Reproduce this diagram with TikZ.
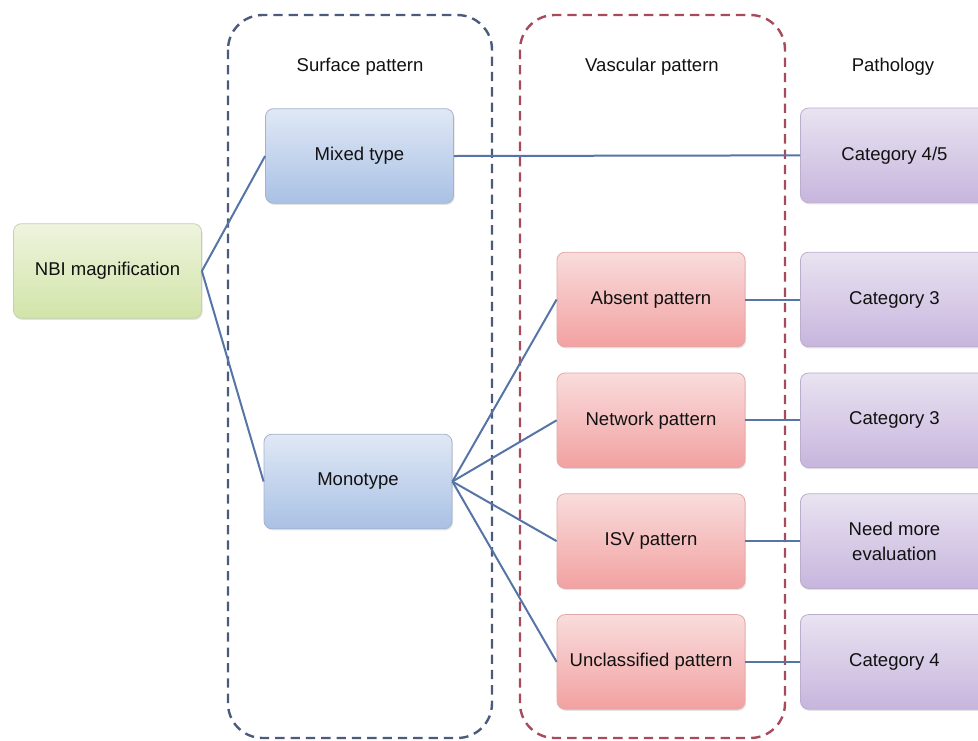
\documentclass[tikz,border=0pt]{standalone}
\usepackage{fontspec}
\setmainfont{Liberation Sans}
\usepackage{xcolor}
\usepackage{tikz}
\usetikzlibrary{positioning, shadows}
\definecolor{linkBlue}{HTML}{5674A6}
\definecolor{surfDash}{HTML}{4B5B7C}
\definecolor{vascDash}{HTML}{A64A5C}
\definecolor{textDark}{HTML}{111111}
\definecolor{greenTop}{HTML}{EEF4DE}
\definecolor{greenBot}{HTML}{D2E4A8}
\definecolor{greenLine}{HTML}{C4D2A8}
\definecolor{blueTop}{HTML}{E0E8F5}
\definecolor{blueBot}{HTML}{A9C1E5}
\definecolor{blueLine}{HTML}{A3B3CC}
\definecolor{redTop}{HTML}{F9DCDC}
\definecolor{redBot}{HTML}{F2A1A1}
\definecolor{redLine}{HTML}{E2A8A8}
\definecolor{violetTop}{HTML}{E9E3F1}
\definecolor{violetBot}{HTML}{C7B5DD}
\definecolor{violetLine}{HTML}{BBADCE}

\begin{document}
\begin{tikzpicture}[
        x=0.75pt, y=-0.75pt,
        every node/.style={font=\fontsize{13.9}{19}\selectfont, text=textDark},
        stage/.style={rectangle, rounded corners=6pt, line width=0.6pt,
                      minimum width=141pt, minimum height=71pt, align=center,
                      drop shadow={opacity=0.22, shadow xshift=0.8pt, shadow yshift=-1.2pt}},
        startBox/.style={stage, draw=greenLine, top color=greenTop, bottom color=greenBot},
        surfBox/.style={stage, draw=blueLine, top color=blueTop, bottom color=blueBot},
        vascBox/.style={stage, draw=redLine, top color=redTop, bottom color=redBot},
        pathBox/.style={stage, draw=violetLine, top color=violetTop, bottom color=violetBot},
        group/.style={line width=1.8pt, rounded corners=26pt, dash pattern=on 7pt off 4.5pt},
        link/.style={draw=linkBlue, line width=1.5pt},
      ]
        \path[use as bounding box, clip] (0,0) rectangle (978,740);

        % column frames
        \draw[group, draw=surfDash] (228,15) rectangle (492,738);
        \draw[group, draw=vascDash] (520,15) rectangle (785,738);

        \node (surfHead) at (360,67) {Surface pattern};
        \node (vascHead) at (652,67) {Vascular pattern};
        \node (pathHead) at (893,67) {Pathology};

        % boxes
        \node[startBox] (nbi) at (107.5,271) {NBI magnification};
        \node[surfBox] (mixed) at (359.5,156) {Mixed type};
        \node[surfBox] (mono) at (358,481.5) {Monotype};

        \node[vascBox] (absent) at (651,299.5) {Absent pattern};
        \node[vascBox, below=19pt of absent] (network) {Network pattern};
        \node[vascBox, below=19pt of network] (isv) {ISV pattern};
        \node[vascBox, below=19pt of isv] (unclass) {Unclassified pattern};

        \node[pathBox, right=41pt of absent] (catA) {Category 3};
        \node[pathBox, above=36.5pt of catA] (cat45) {Category 4/5};
        \node[pathBox, right=41pt of network] (catB) {Category 3};
        \node[pathBox, right=41pt of isv] (evalmore) {Need more\\evaluation};
        \node[pathBox, right=41pt of unclass] (catC) {Category 4};

        % connectors
        \draw[link] (nbi.east) -- (mixed.west);
        \draw[link] (nbi.east) -- (mono.west);
        \draw[link] (mixed.east) -- (cat45.west);
        \foreach \v/\p in {absent/catA, network/catB, isv/evalmore, unclass/catC} {
            \draw[link] (mono.east) -- (\v.west);
            \draw[link] (\v.east) -- (\p.west);
        }
      \end{tikzpicture}
\end{document}
